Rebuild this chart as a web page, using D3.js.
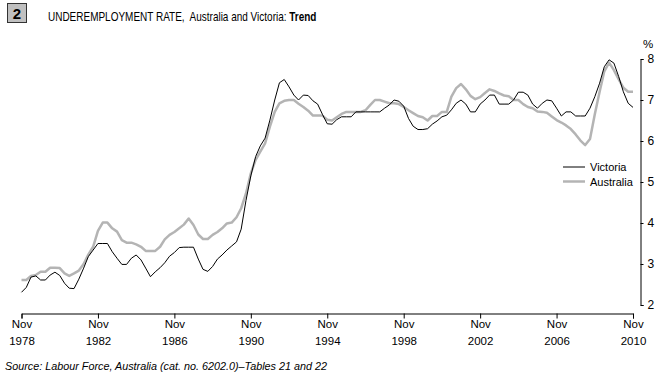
<!DOCTYPE html>
<html>
<head>
<meta charset="utf-8">
<script src="https://cdn.jsdelivr.net/npm/d3@7"></script>
<style>
  body { margin: 0; background: #fff; }
  svg { display: block; font-family: "Liberation Sans", Arial, sans-serif; }
</style>
</head>
<body>
<div class="chart"></div>
<script>
// Quarterly trend series, Nov 1978 .. Nov 2010 (129 quarters)
const startDate = new Date(1978, 10, 1);
const victoria = [
  2.31, 2.43, 2.68, 2.71, 2.61, 2.61, 2.73, 2.80, 2.72, 2.53,
  2.41, 2.40, 2.63, 2.90, 3.18, 3.34, 3.50, 3.50, 3.50, 3.30,
  3.14, 2.99, 2.99, 3.14, 3.22, 3.10, 2.90, 2.69, 2.81, 2.91,
  3.03, 3.19, 3.28, 3.40, 3.41, 3.41, 3.41, 3.12, 2.87, 2.82,
  2.94, 3.12, 3.22, 3.34, 3.44, 3.54, 3.85, 4.55, 5.15, 5.62,
  5.88, 6.07, 6.51, 7.00, 7.42, 7.50, 7.32, 7.12, 7.00, 7.12,
  7.11, 6.98, 6.90, 6.65, 6.42, 6.41, 6.52, 6.59, 6.59, 6.59,
  6.71, 6.71, 6.71, 6.71, 6.71, 6.71, 6.80, 6.88, 7.00, 6.97,
  6.85, 6.55, 6.36, 6.28, 6.28, 6.30, 6.41, 6.49, 6.59, 6.63,
  6.76, 6.92, 7.00, 6.90, 6.71, 6.71, 6.90, 7.00, 7.12, 7.12,
  6.90, 6.90, 6.90, 7.00, 7.19, 7.19, 7.12, 6.90, 6.80, 6.92,
  7.00, 6.98, 6.80, 6.61, 6.71, 6.71, 6.61, 6.61, 6.61, 6.80,
  7.08, 7.41, 7.81, 7.98, 7.90, 7.57, 7.20, 6.92, 6.82
];
const australia = [
  2.61, 2.61, 2.71, 2.73, 2.81, 2.81, 2.91, 2.91, 2.90, 2.77,
  2.71, 2.77, 2.84, 3.00, 3.23, 3.42, 3.81, 4.01, 4.01, 3.87,
  3.79, 3.58, 3.52, 3.52, 3.48, 3.42, 3.32, 3.32, 3.32, 3.42,
  3.60, 3.71, 3.78, 3.87, 3.96, 4.11, 3.95, 3.72, 3.61, 3.61,
  3.71, 3.78, 3.87, 3.99, 4.01, 4.14, 4.36, 4.72, 5.21, 5.54,
  5.74, 5.94, 6.35, 6.71, 6.92, 6.98, 7.00, 7.00, 6.91, 6.83,
  6.74, 6.62, 6.62, 6.62, 6.52, 6.50, 6.58, 6.66, 6.71, 6.71,
  6.71, 6.71, 6.75, 6.88, 7.00, 7.00, 6.96, 6.92, 6.92, 6.90,
  6.83, 6.75, 6.68, 6.61, 6.58, 6.50, 6.61, 6.61, 6.71, 6.71,
  7.08, 7.29, 7.39, 7.26, 7.10, 7.02, 7.07, 7.17, 7.26, 7.22,
  7.16, 7.11, 7.09, 7.00, 7.00, 6.90, 6.83, 6.80, 6.72, 6.71,
  6.69, 6.60, 6.51, 6.45, 6.38, 6.29, 6.16, 6.01, 5.90, 6.05,
  6.65, 7.20, 7.70, 7.91, 7.73, 7.50, 7.30, 7.20, 7.20
];
const tickYears = [1978, 1982, 1986, 1990, 1994, 1998, 2002, 2006, 2010];
const yTicks = [2, 3, 4, 5, 6, 7, 8];

const width = 661, height = 378;
const svg = d3.select(".chart").append("svg")
  .attr("width", width)
  .attr("height", height);

const dates = victoria.map((v, i) => d3.timeMonth.offset(startDate, 3 * i));

const x = d3.scaleTime()
  .domain([startDate, new Date(2010, 10, 1)])
  .range([21.5, 633]);
const y = d3.scaleLinear()
  .domain([2, 8])
  .range([305, 59]);

// Title block
svg.append("rect")
  .attr("x", 7.5).attr("y", 3.5)
  .attr("width", 19).attr("height", 19)
  .attr("fill", "#c0c0c0")
  .attr("stroke", "#333");
svg.append("text")
  .attr("x", 17).attr("y", 19)
  .attr("text-anchor", "middle")
  .attr("font-weight", "bold")
  .attr("font-size", 15)
  .text("2");

// title squeezed horizontally to mimic the narrow face of the original
const title = svg.append("g")
  .attr("transform", "translate(48,21) scale(0.8,1)")
  .append("text")
  .attr("font-size", 12.5)
  .attr("xml:space", "preserve");
title.append("tspan").text("UNDEREMPLOYMENT RATE,  Australia and Victoria: ");
title.append("tspan").attr("font-weight", "bold").text("Trend");

// X axis
const xAxis = svg.append("g")
  .attr("transform", "translate(0,313.5)")
  .call(d3.axisBottom(x)
    .tickValues(tickYears.map(yr => new Date(yr, 10, 1)))
    .tickSize(5)
    .tickSizeOuter(5)
    .tickFormat(""));
xAxis.selectAll("path, line").attr("stroke", "#000");
xAxis.selectAll(".tick").each(function(d) {
  const t = d3.select(this).append("text")
    .attr("fill", "#000")
    .attr("text-anchor", "middle")
    .attr("font-size", 11.5);
  t.append("tspan").attr("x", 0).attr("y", 14).text("Nov");
  t.append("tspan").attr("x", 0).attr("y", 31).text(d.getFullYear());
});

// Y axis on the right
const yAxis = svg.append("g")
  .attr("transform", "translate(640.5,0)")
  .call(d3.axisRight(y)
    .tickValues(yTicks)
    .tickSize(3)
    .tickSizeOuter(3)
    .tickPadding(4)
    .tickFormat(d3.format("d")));
yAxis.selectAll("path, line").attr("stroke", "#000");
yAxis.selectAll("text")
  .attr("fill", "#000")
  .attr("font-size", 12);
svg.append("text")
  .attr("x", 643).attr("y", 48)
  .attr("font-size", 11.5)
  .text("%");

// Lines
const line = d3.line()
  .x((d, i) => x(dates[i]))
  .y(d => y(d));

svg.append("path")
  .datum(australia)
  .attr("fill", "none")
  .attr("stroke", "#b4b4b4")
  .attr("stroke-width", 2.5)
  .attr("stroke-linejoin", "round")
  .attr("d", line);

svg.append("path")
  .datum(victoria)
  .attr("fill", "none")
  .attr("stroke", "#000")
  .attr("stroke-width", 1)
  .attr("d", line);

// Legend
const legend = [
  { name: "Victoria", color: "#000", w: 1, y: 167 },
  { name: "Australia", color: "#b4b4b4", w: 2.5, y: 181.5 }
];
legend.forEach(l => {
  svg.append("line")
    .attr("x1", 563).attr("x2", 585)
    .attr("y1", l.y).attr("y2", l.y)
    .attr("stroke", l.color)
    .attr("stroke-width", l.w);
  svg.append("text")
    .attr("x", 590).attr("y", l.y + 4)
    .attr("font-size", 11)
    .text(l.name);
});

// Source note
svg.append("text")
  .attr("x", 5).attr("y", 370)
  .attr("font-size", 10.5)
  .attr("font-style", "italic")
  .attr("textLength", 322)
  .attr("lengthAdjust", "spacingAndGlyphs")
  .text("Source: Labour Force, Australia (cat. no. 6202.0)\u2013Tables 21 and 22");
</script>
</body>
</html>
